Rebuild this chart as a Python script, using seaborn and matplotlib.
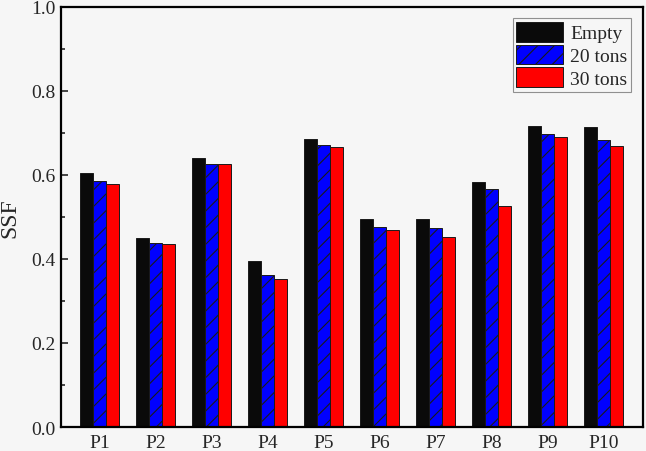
import pandas as pd
import seaborn as sns
import matplotlib.pyplot as plt
from matplotlib.ticker import MultipleLocator

positions = ["P1", "P2", "P3", "P4", "P5", "P6", "P7", "P8", "P9", "P10"]
loads = ["Empty", "20 tons", "30 tons"]
ssf_empty = [0.605, 0.449, 0.640, 0.394, 0.686, 0.494, 0.496, 0.583, 0.715, 0.713]
ssf_20 = [0.586, 0.439, 0.625, 0.362, 0.672, 0.477, 0.474, 0.566, 0.698, 0.682]
ssf_30 = [0.579, 0.436, 0.625, 0.353, 0.667, 0.469, 0.453, 0.526, 0.689, 0.669]

df = pd.DataFrame({
    "pos": positions * 3,
    "load": [loads[0]] * 10 + [loads[1]] * 10 + [loads[2]] * 10,
    "ssf": ssf_empty + ssf_20 + ssf_30,
})

sns.set_style("ticks")
plt.rcParams["font.family"] = ["Liberation Serif", "DejaVu Serif"]
plt.rcParams["hatch.linewidth"] = 0.8
bg = "#f6f6f6"

fig, ax = plt.subplots(figsize=(6.46, 4.52), dpi=100)
fig.patch.set_facecolor(bg)
ax.set_facecolor(bg)

sns.barplot(data=df, x="pos", y="ssf", hue="load", hue_order=loads,
            palette=["#0a0a0a", "#0000ff", "#ff0000"], width=0.7,
            saturation=1, edgecolor="#1a1a1a", linewidth=0.7,
            legend=False, ax=ax)

# hatch the 20 tons bars
for p in ax.containers[1].patches:
    p.set_hatch("//")

handles = [c.patches[0] for c in ax.containers]
leg = ax.legend(handles, loads, loc="upper right", fontsize=14,
                frameon=True, fancybox=False, edgecolor="#777777",
                handlelength=2.4, handleheight=1.15, labelspacing=0.12,
                handletextpad=0.35, borderpad=0.2, borderaxespad=0.6)
leg.get_frame().set_linewidth(0.8)
leg.get_frame().set_facecolor(bg)

ax.set_xlim(-0.7, 9.7)
ax.set_ylim(0, 1.0)
ax.yaxis.set_major_locator(MultipleLocator(0.2))
ax.yaxis.set_minor_locator(MultipleLocator(0.1))
ax.tick_params(axis="y", which="major", direction="in", length=5, width=1.2, labelsize=14)
ax.tick_params(axis="y", which="minor", direction="in", length=3, width=1.2)
ax.tick_params(axis="x", length=0, labelsize=14, pad=5)
ax.set_xlabel("")
ax.set_ylabel("SSF", fontsize=17, labelpad=8)
for s in ax.spines.values():
    s.set_visible(True)
    s.set_linewidth(1.6)
    s.set_color("black")

plt.subplots_adjust(left=0.094, right=0.995, top=0.983, bottom=0.053)
plt.savefig("out.png", dpi=100, facecolor=bg)
